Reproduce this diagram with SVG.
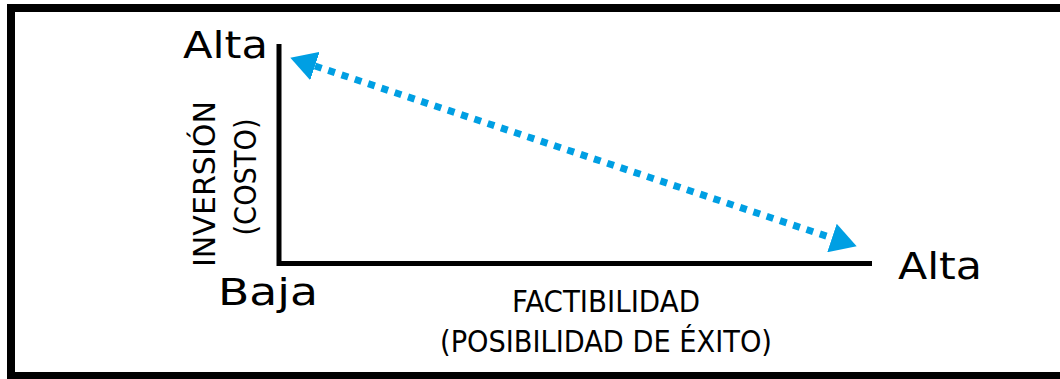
<svg xmlns="http://www.w3.org/2000/svg" width="1060" height="379" viewBox="0 0 1060 379">
<style>
.lvl{font-family:"DejaVu Sans","Liberation Sans",sans-serif;font-size:38px;fill:#000}
.ax{font-family:"DejaVu Sans Condensed","DejaVu Sans","Liberation Sans",sans-serif;font-size:30px;fill:#000}
.axis{stroke:#000;stroke-width:5;fill:none}
</style>
<defs>
<marker id="ah" markerUnits="userSpaceOnUse" markerWidth="26" markerHeight="30" refX="0" refY="15" orient="auto-start-reverse" viewBox="0 0 26 30">
<path d="M0,0 L26,15 L0,30 Z" fill="#009fe3"/>
</marker>
</defs>
<rect x="0" y="0" width="1060" height="379" fill="#fff"/>
<rect id="frame" x="11" y="8" width="1070" height="368" fill="none" stroke="#000" stroke-width="8"/>
<g id="axes">
<path class="axis" d="M279,44 V263.5 H872"/>
</g>
<g id="connectors">
<line x1="315" y1="66" x2="832" y2="238" stroke="#009fe3" stroke-width="7" stroke-dasharray="7 7" marker-start="url(#ah)" marker-end="url(#ah)"/>
</g>
<g id="label-alta-y"><text class="lvl" x="183" y="58" textLength="85" lengthAdjust="spacingAndGlyphs">Alta</text></g>
<g id="label-baja"><text class="lvl" x="218" y="305" textLength="100" lengthAdjust="spacingAndGlyphs">Baja</text></g>
<g id="label-alta-x"><text class="lvl" x="898" y="279" textLength="84" lengthAdjust="spacingAndGlyphs">Alta</text></g>
<g id="label-y">
<text class="ax" transform="translate(215,184) rotate(-90)" text-anchor="middle" textLength="166" lengthAdjust="spacingAndGlyphs">INVERSIÓN</text>
<text class="ax" transform="translate(256,177) rotate(-90)" text-anchor="middle" textLength="117" lengthAdjust="spacingAndGlyphs">(COSTO)</text>
</g>
<g id="label-x">
<text class="ax" x="606" y="312" text-anchor="middle" textLength="188" lengthAdjust="spacingAndGlyphs">FACTIBILIDAD</text>
<text class="ax" x="606" y="352" text-anchor="middle" textLength="332" lengthAdjust="spacingAndGlyphs">(POSIBILIDAD DE ÉXITO)</text>
</g>
</svg>
